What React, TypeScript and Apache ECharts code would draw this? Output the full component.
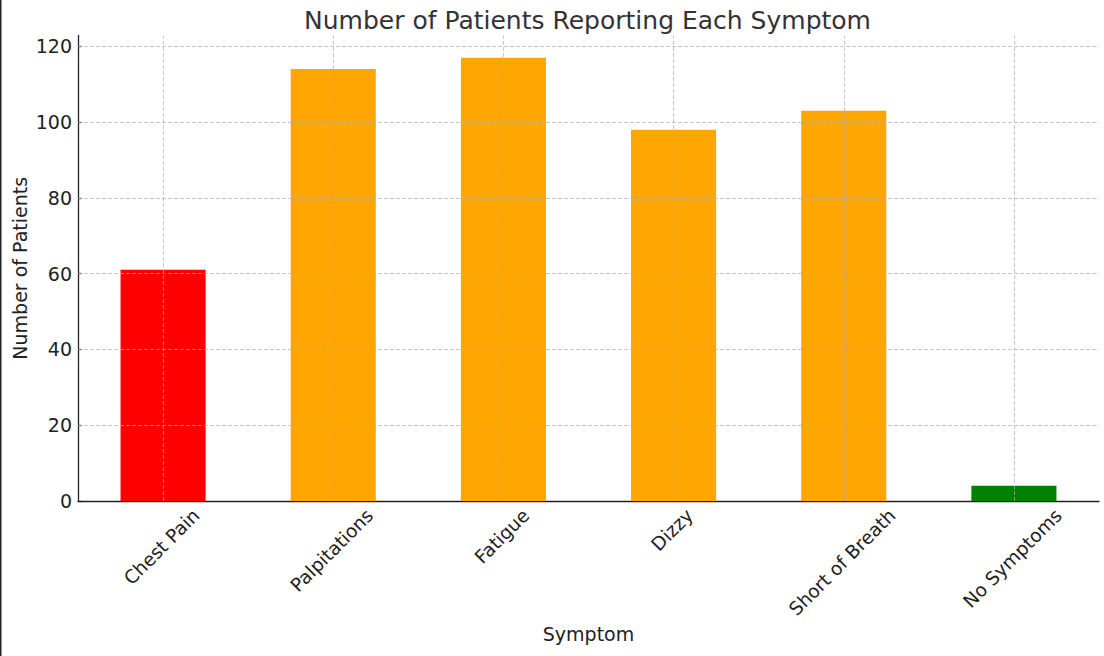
import React, { useEffect, useRef } from "react";
import * as echarts from "echarts";

const categories = ["Chest Pain", "Palpitations", "Fatigue", "Dizzy", "Short of Breath", "No Symptoms"];
const patientCounts = [61, 114, 117, 98, 103, 4];
const barColors = ["#ff0000", "#ffa500", "#ffa500", "#ffa500", "#ffa500", "#008000"];
const yTicks = [0, 20, 40, 60, 80, 100, 120];
const yMax = 122.85;

const FONT = "DejaVu Sans";
const LABEL_SIZE = 19;
const CAT_SIZE = 18.6;
const GRID_COLOR = "rgba(176,176,176,0.7)";

export default function App() {
  const ref = useRef<HTMLDivElement>(null);

  useEffect(() => {
    if (!ref.current) return;
    const chart = echarts.init(ref.current, null, { renderer: "svg" });
    const gridLeft = 78;
    const gridRight = 5;
    const option: any = {
      animation: false,
      backgroundColor: "#ffffff",
      title: {
        text: "Number of Patients Reporting Each Symptom",
        left: (gridLeft + 1104 - gridRight) / 2 - 6,
        textAlign: "center",
        top: 3,
        textStyle: { fontFamily: FONT, fontSize: 25, fontWeight: "normal", color: "#333333" },
      },
      grid: {
        left: gridLeft,
        right: gridRight,
        top: 35.5,
        bottom: 155,
        containLabel: false,
        outerBoundsMode: "none",
      },
      xAxis: {
        type: "category",
        data: categories,
        boundaryGap: true,
        name: "Symptom",
        nameLocation: "middle",
        nameGap: 123,
        nameMoveOverlap: false,
        nameTextStyle: { fontFamily: FONT, fontSize: LABEL_SIZE, color: "#222222" },
        axisLine: { show: true, lineStyle: { color: "#222222", width: 1.3 } },
        axisTick: { show: true, inside: true, length: 4, alignWithLabel: true, lineStyle: { color: "#222222", width: 1.2 } },
        axisLabel: { show: false },
        splitLine: { show: false },
      },
      yAxis: {
        type: "value",
        min: 0,
        max: yMax,
        interval: 20,
        name: "Number of Patients",
        nameLocation: "middle",
        nameGap: 49,
        nameMoveOverlap: false,
        nameTextStyle: { fontFamily: FONT, fontSize: LABEL_SIZE, color: "#222222" },
        axisLine: { show: true, lineStyle: { color: "#222222", width: 1.3 } },
        axisTick: { show: true, inside: true, length: 4, customValues: yTicks, lineStyle: { color: "#222222", width: 1.2 } },
        axisLabel: { show: true, margin: 6, customValues: yTicks, fontFamily: FONT, fontSize: LABEL_SIZE, color: "#222222" },
        splitLine: { show: false },
      },
      series: [
        {
          type: "bar",
          barWidth: "50%",
          data: patientCounts.map((v, i) => ({ value: v, itemStyle: { color: barColors[i] } })),
          markLine: {
            silent: true,
            symbol: "none",
            z: 5,
            label: { show: false },
            lineStyle: { color: GRID_COLOR, type: [4, 2], width: 1 },
            emphasis: { disabled: true },
            data: [
              ...categories.map((c) => ({ xAxis: c })),
              ...yTicks.filter((v) => v > 0).map((v) => ({ yAxis: v })),
            ],
          },
        },
      ],
      graphic: [
        {
          type: "line",
          shape: { x1: 0.75, y1: 0, x2: 0.75, y2: 656 },
          style: { stroke: "#222222", lineWidth: 1.5 },
          silent: true,
        },
      ],
    };
    chart.setOption(option);

    // rotated category labels, matplotlib-style (bbox centred under tick, top aligned)
    const canvas = document.createElement("canvas");
    const ctx = canvas.getContext("2d")!;
    ctx.font = `${CAT_SIZE}px "${FONT}"`;
    const axisY = chart.convertToPixel({ yAxisIndex: 0 }, 0) as number;
    const H = CAT_SIZE * 1.17;
    const pad = 3.5;
    const labels = categories.map((c) => {
      const x = chart.convertToPixel({ xAxisIndex: 0 }, c) as number;
      const L = ctx.measureText(c).width;
      const half = (Math.SQRT1_2 * (L + H)) / 2;
      return {
        type: "text",
        x: x - 1.5,
        y: axisY + pad + half,
        rotation: Math.PI / 4,
        silent: true,
        style: {
          text: c,
          fontFamily: FONT,
          fontSize: CAT_SIZE,
          fill: "#222222",
          align: "center",
          verticalAlign: "middle",
        },
      };
    });
    chart.setOption({ graphic: [option.graphic[0], ...labels] }, { replaceMerge: ["graphic"] });

    return () => chart.dispose();
  }, []);

  return <div ref={ref} style={{ position: "fixed", left: 0, top: 0, width: 1104, height: 656 }} />;
}
